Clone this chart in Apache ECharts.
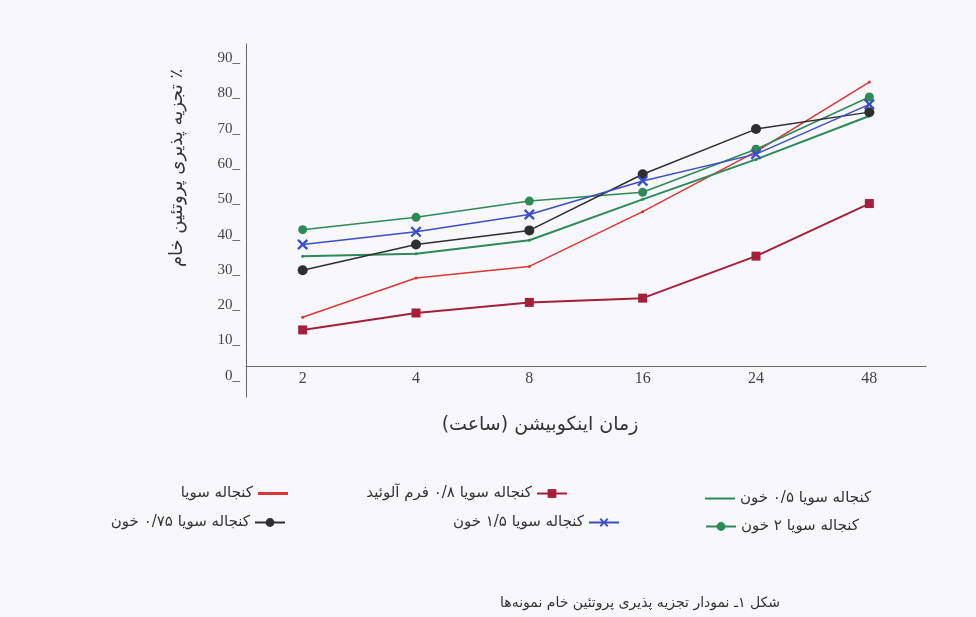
<!DOCTYPE html>
<html>
<head>
<meta charset="utf-8">
<script src="https://cdn.jsdelivr.net/npm/echarts@6/dist/echarts.min.js"></script>
<style>html,body{margin:0;padding:0;background:#f8f7fb;}#c{width:976px;height:617px;}</style>
</head>
<body>
<div id="c"></div>
<script>
const RLM = '\u200F';
const categories = ['2', '4', '8', '16', '24', '48'];
const yTicks = [0, 10, 20, 30, 40, 50, 60, 70, 80, 90];

const names = {
  soy: 'کنجاله سویا',
  aloe: 'کنجاله سویا ۰/۸ فرم آلوئید',
  b05: 'کنجاله سویا ۰/۵ خون',
  b075: 'کنجاله سویا ۰/۷۵ خون',
  b15: 'کنجاله سویا ۱/۵ خون',
  b2: 'کنجاله سویا ۲ خون'
};

const soyValues  = [16.6, 27.7, 31.0, 46.5, 63.5, 83.2];
const aloeValues = [13.0, 17.8, 20.8, 22.0, 33.9, 48.8];
const b05Values  = [33.9, 34.6, 38.4, 50.0, 61.3, 73.6];
const b2Values   = [41.4, 44.9, 49.5, 52.0, 64.2, 79.0];
const b075Values = [29.9, 37.2, 41.2, 57.1, 69.9, 74.7];
const b15Values  = [37.2, 40.8, 45.7, 55.2, 62.8, 76.9];

const yTitle = RLM + '٪ تجزیه پذیری پروتئین خام' + RLM;
const xTitle = RLM + 'زمان اینکوبیشن (ساعت)' + RLM;
const caption = RLM + 'شکل ۱ـ نمودار تجزیه پذیری پروتئین خام نمونه‌ها' + RLM;

const FA = 'DejaVu Sans';
const RED = '#dc3535', DRED = '#a61f3a', GREEN = '#2b8a57', BLACK = '#2e2e2e', BLUE = '#3a4ec6';
const XPATH = 'path://M0,1.5L1.5,0L5,3.5L8.5,0L10,1.5L6.5,5L10,8.5L8.5,10L5,6.5L1.5,10L0,8.5L3.5,5Z';

function mkLegend(item, pos, align, h) {
  return Object.assign({
    data: [item], align: align, padding: 0, itemWidth: 30, itemHeight: h || 11,
    textStyle: { fontFamily: FA, fontSize: 15, color: '#333' }
  }, pos);
}

const chart = echarts.init(document.getElementById('c'));
chart.setOption({
  backgroundColor: '#f8f7fb',
  animation: false,
  title: {
    text: caption, left: 495, top: 591,
    textStyle: { fontFamily: FA, fontSize: 14, fontWeight: 'normal', color: '#333' }
  },
  graphic: [
    { type: 'text', x: 177, y: 168, rotation: Math.PI / 2,
      style: { text: yTitle, font: '18px "DejaVu Sans"', fill: '#333', align: 'center', verticalAlign: 'middle' } },
    { type: 'text', x: 540, y: 425,
      style: { text: xTitle, font: '19px "DejaVu Sans"', fill: '#333', align: 'center', verticalAlign: 'middle' } }
  ],
  legend: [
    mkLegend({ name: names.soy, icon: 'rect' }, { right: 688, top: 486 }, 'right', 3),
    mkLegend(names.aloe, { right: 408, top: 486 }, 'right'),
    mkLegend({ name: names.b05, icon: 'rect' }, { left: 705, top: 491 }, 'left', 2),
    mkLegend(names.b075, { right: 690, top: 515 }, 'right'),
    mkLegend(names.b15, { right: 356, top: 515 }, 'right'),
    mkLegend(names.b2, { left: 705, top: 519 }, 'left')
  ],
  grid: { left: 246, right: 50, top: 44, bottom: 220 },
  xAxis: {
    type: 'category', data: categories, boundaryGap: true, offset: -31,
    axisLine: { lineStyle: { color: '#666', width: 1 } },
    axisTick: { show: false },
    axisLabel: { margin: 5, fontFamily: 'Liberation Serif', fontSize: 16, color: '#444' }
  },
  yAxis: {
    type: 'value', min: -6, max: 94,
    axisLine: { show: true, lineStyle: { color: '#666', width: 1 } },
    axisTick: { show: false },
    splitLine: { show: false },
    axisLabel: {
      customValues: yTicks, margin: 6,
      fontFamily: 'Liberation Serif', fontSize: 15, color: '#444',
      formatter: v => v + '_'
    }
  },
  series: [
    { name: names.soy, type: 'line', data: soyValues, symbol: 'circle', symbolSize: 3,
      lineStyle: { color: RED, width: 1.5 }, itemStyle: { color: RED }, z: 3 },
    { name: names.aloe, type: 'line', data: aloeValues, symbol: 'rect', symbolSize: 9,
      lineStyle: { color: DRED, width: 2 }, itemStyle: { color: DRED } },
    { name: names.b05, type: 'line', data: b05Values, symbol: 'circle', symbolSize: 3,
      lineStyle: { color: GREEN, width: 2 }, itemStyle: { color: GREEN } },
    { name: names.b2, type: 'line', data: b2Values, symbol: 'circle', symbolSize: 9,
      lineStyle: { color: GREEN, width: 1.5 }, itemStyle: { color: GREEN } },
    { name: names.b075, type: 'line', data: b075Values, symbol: 'circle', symbolSize: 10,
      lineStyle: { color: BLACK, width: 1.5 }, itemStyle: { color: BLACK } },
    { name: names.b15, type: 'line', data: b15Values, symbol: XPATH, symbolSize: 11,
      lineStyle: { color: BLUE, width: 1.5 }, itemStyle: { color: BLUE } }
  ]
});
</script>
</body>
</html>
